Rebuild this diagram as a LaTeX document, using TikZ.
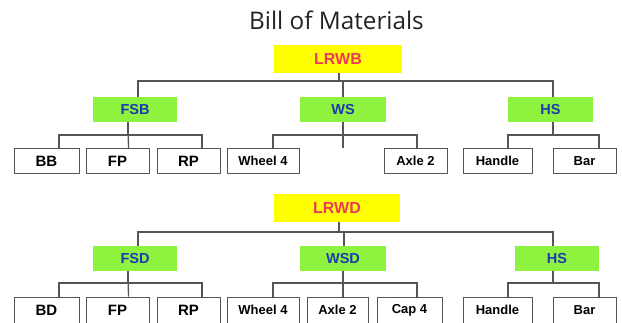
\documentclass[tikz,border=0pt]{standalone}
\usepackage{fontspec}
\setmainfont{Liberation Sans}
\newfontfamily\titlefont{Open Sans}
\definecolor{bomyellow}{RGB}{255,255,0}
\definecolor{bomgreen}{RGB}{142,242,62}
\definecolor{bomred}{RGB}{236,58,92}
\definecolor{bomblue}{RGB}{28,58,178}
\definecolor{bomline}{RGB}{85,85,85}
\definecolor{bomtitle}{RGB}{35,35,35}
\begin{document}
\begin{tikzpicture}[x=1pt,y=-1pt,
  rootbox/.style={fill=bomyellow,minimum height=28pt,inner sep=0pt,
    text=bomred,font=\fontsize{16}{16}\selectfont\bfseries},
  subbox/.style={fill=bomgreen,minimum height=25pt,inner sep=0pt,
    text=bomblue,font=\fontsize{14.5}{14.5}\selectfont\bfseries},
  leafbox/.style={draw=bomline,line width=1pt,fill=white,minimum height=25pt,inner sep=0pt,
    text=black,font=\fontsize{13}{13}\selectfont\bfseries},
  bigleaf/.style={leafbox,font=\fontsize{15}{15}\selectfont\bfseries},
  conn/.style={draw=bomline,line width=1.3pt}]
\useasboundingbox (0,0) rectangle (622,322);
\fill[white] (0,0) rectangle (622,322);

\node[text=bomtitle,font=\titlefont\fontsize{24.3}{24.3}\selectfont,anchor=base] (title) at (336.5,29) {Bill of Materials};

% ---------- upper tree ----------
\node[rootbox,minimum width=128pt] (lrwb) at (338,59) {LRWB};
\node[subbox,minimum width=84pt] (fsb) at (135,109.5) {FSB};
\node[subbox,minimum width=86pt] (ws) at (343,109.5) {WS};
\node[subbox,minimum width=85pt] (hs) at (550.5,109.5) {HS};

\node[bigleaf,minimum width=65pt] (bb) at (46.5,161) {BB};
\node[bigleaf,minimum width=63pt] (fp) at (117.5,161) {FP};
\node[bigleaf,minimum width=63pt] (rp) at (188.5,161) {RP};
\node[leafbox,minimum width=72pt] (wheel) at (263,161) {Wheel 4};
\node[leafbox,minimum width=63pt] (axle) at (415.5,161) {Axle 2};
\node[leafbox,minimum width=69pt] (handle) at (497.5,161) {Handle};
\node[leafbox,minimum width=63pt] (bar) at (584.5,161) {Bar};
\coordinate (stub) at (343,148);

\draw[conn] ([xshift=1pt]lrwb.south) |- ([xshift=3pt]fsb.north |- 0,81) -- ([xshift=3pt]fsb.north);
\draw[conn] ([xshift=1pt]lrwb.south) |- (ws.north |- 0,81) -- (ws.north);
\draw[conn] ([xshift=1pt]lrwb.south) |- ([xshift=2.5pt]hs.north |- 0,81) -- ([xshift=2.5pt]hs.north);

\draw[conn] ([xshift=-7pt]fsb.south) |- ([xshift=12.5pt]bb.north |- 0,135) -- ([xshift=12.5pt]bb.north);
\draw[conn] ([xshift=-7pt]fsb.south) -- ([xshift=11pt]fp.north);
\draw[conn] ([xshift=-7pt]fsb.south) |- ([xshift=13.5pt]rp.north |- 0,135) -- ([xshift=13.5pt]rp.north);

\draw[conn] (ws.south) -- (stub);
\draw[conn] (ws.south) |- ([xshift=10pt]wheel.north |- 0,135) -- ([xshift=10pt]wheel.north);
\draw[conn] (ws.south) |- ([xshift=1.5pt]axle.north |- 0,135) -- ([xshift=1.5pt]axle.north);

\draw[conn] ([xshift=2.5pt]hs.south) |- ([xshift=10.5pt]handle.north |- 0,135) -- ([xshift=10.5pt]handle.north);
\draw[conn] ([xshift=2.5pt]hs.south) |- ([xshift=14.5pt]bar.north |- 0,135) -- ([xshift=14.5pt]bar.north);

% ---------- lower tree ----------
\node[rootbox,minimum width=126pt] (lrwd) at (337,208) {LRWD};
\node[subbox,minimum width=84pt] (fsd) at (135,258.5) {FSD};
\node[subbox,minimum width=86pt] (wsd) at (343,258.5) {WSD};
\node[subbox,minimum width=84pt] (hs2) at (557,258.5) {HS};

\node[bigleaf,minimum width=65pt,minimum height=26pt] (bd) at (46.5,310) {BD};
\node[bigleaf,minimum width=63pt,minimum height=26pt] (fp2) at (117.5,310) {FP};
\node[bigleaf,minimum width=63pt,minimum height=26pt] (rp2) at (188.5,310) {RP};
\node[leafbox,minimum width=72pt,minimum height=26pt] (wheel2) at (263,310) {Wheel 4};
\node[leafbox,minimum width=61pt,minimum height=26pt] (axle2) at (337.5,310) {Axle 2};
\node[leafbox,minimum width=65pt,minimum height=26pt] (cap) at (409.5,310) {Cap 4};
\node[leafbox,minimum width=69pt,minimum height=26pt] (handle2) at (497.5,310) {Handle};
\node[leafbox,minimum width=63pt,minimum height=26pt] (bar2) at (584.5,310) {Bar};

\draw[conn] ([xshift=2pt]lrwd.south) |- ([xshift=3pt]fsd.north |- 0,232) -- ([xshift=3pt]fsd.north);
\draw[conn] ([xshift=2pt]lrwd.south) |- ([xshift=1pt]wsd.north |- 0,232) -- ([xshift=1pt]wsd.north);
\draw[conn] ([xshift=2pt]lrwd.south) |- ([xshift=-4pt]hs2.north |- 0,232) -- ([xshift=-4pt]hs2.north);

\draw[conn] ([xshift=-7pt]fsd.south) |- ([xshift=12.5pt]bd.north |- 0,283) -- ([xshift=12.5pt]bd.north);
\draw[conn] ([xshift=-7pt]fsd.south) -- ([xshift=11pt]fp2.north);
\draw[conn] ([xshift=-7pt]fsd.south) |- ([xshift=13.5pt]rp2.north |- 0,283) -- ([xshift=13.5pt]rp2.north);

\draw[conn] (wsd.south) |- ([xshift=10pt]wheel2.north |- 0,283) -- ([xshift=10pt]wheel2.north);
\draw[conn] (wsd.south) -- ([xshift=5.5pt]axle2.north);
\draw[conn] (wsd.south) |- ([xshift=7.5pt]cap.north |- 0,283) -- ([xshift=7.5pt]cap.north);

\draw[conn] ([xshift=-4pt]hs2.south) |- ([xshift=10.5pt]handle2.north |- 0,283) -- ([xshift=10.5pt]handle2.north);
\draw[conn] ([xshift=-4pt]hs2.south) |- ([xshift=14.5pt]bar2.north |- 0,283) -- ([xshift=14.5pt]bar2.north);
\end{tikzpicture}
\end{document}
